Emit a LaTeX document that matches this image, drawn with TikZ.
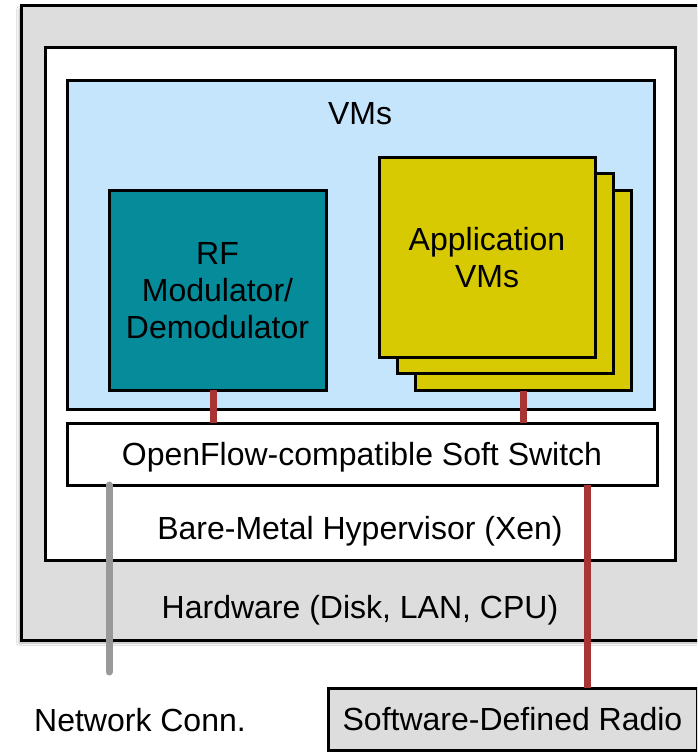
\documentclass[tikz,border=0pt]{standalone}
\usepackage{fontspec}
\setmainfont{Liberation Sans}
\usetikzlibrary{shadows.blur}
\definecolor{panelgray}{HTML}{DDDDDD}
\definecolor{vmblue}{HTML}{C5E5FD}
\definecolor{rfteal}{HTML}{068B9B}
\definecolor{appyellow}{HTML}{D7CA02}
\definecolor{linkred}{HTML}{A83434}
\definecolor{linkgray}{HTML}{999999}
\begin{document}
\begin{tikzpicture}[x=1pt,y=-1pt,
  box/.style={draw=black, line width=3pt, rectangle, inner sep=0pt, outer sep=0pt,
    align=center, text depth=0pt, font=\fontsize{32}{37}\selectfont},
  redlink/.style={draw=linkred, line width=7pt},
  graylink/.style={draw=linkgray, line width=7pt, line cap=round},
  lbl/.style={font=\fontsize{32}{37}\selectfont, inner sep=0pt, text depth=0pt}]
\clip (0,0) rectangle (697,752);
\fill[white] (0,0) rectangle (697,752);
% hardware layer
\node[box, fill=panelgray, minimum width=699pt, minimum height=634pt,
  blur shadow={shadow xshift=-2pt, shadow yshift=-3pt, shadow opacity=30, shadow blur steps=6}]
  (hw) at (370.5,323) {};
% hypervisor layer
\node[box, fill=white, minimum width=630pt, minimum height=512pt] (hyp) at (360,304) {};
% VM area
\node[box, fill=vmblue, minimum width=587pt, minimum height=329pt] (vms) at (360.5,244.5) {};
\node[lbl] (vmslbl) at (360,113) {VMs};
% stacked application VMs
\node[box, fill=appyellow, minimum width=216pt, minimum height=200pt] (app3) at (523.5,290.5) {};
\node[box, fill=appyellow, minimum width=216pt, minimum height=200pt] (app2) at (505,273.5) {};
\node[box, fill=appyellow, minimum width=216pt, minimum height=200pt] (app1) at (487,257.5) {Application\\VMs};
% RF modem VM
\node[box, fill=rfteal, minimum width=217pt, minimum height=200pt] (rf) at (217.5,290) {RF\\Modulator/\\Demodulator};
% soft switch
\node[box, fill=white, minimum width=590pt, minimum height=62pt] (sw) at (362,454) {OpenFlow-compatible Soft Switch};
% layer captions
\node[lbl] (hyplbl) at (360,528) {Bare-Metal Hypervisor (Xen)};
\node[lbl] (hwlbl) at (360,607) {Hardware (Disk, LAN, CPU)};
% external endpoints
\node[box, fill=panelgray, minimum width=369pt, minimum height=62pt] (sdr) at (512.5,719) {Software-Defined Radio};
\node[lbl] (netlbl) at (140,720) {Network Conn.};
\coordinate (netend) at (109,672);
\coordinate (sdrtap) at (587,688);
% links
\draw[redlink] ([xshift=-4pt]rf.south) -- ([xshift=-4pt]rf.south |- sw.north);
\draw[redlink] (app3.south) -- (app3.south |- sw.north);
\draw[graylink] (sw.south -| netend) -- (netend);
\draw[redlink] (sw.south -| sdrtap) -- (sdr.north -| sdrtap);
\end{tikzpicture}
\end{document}
